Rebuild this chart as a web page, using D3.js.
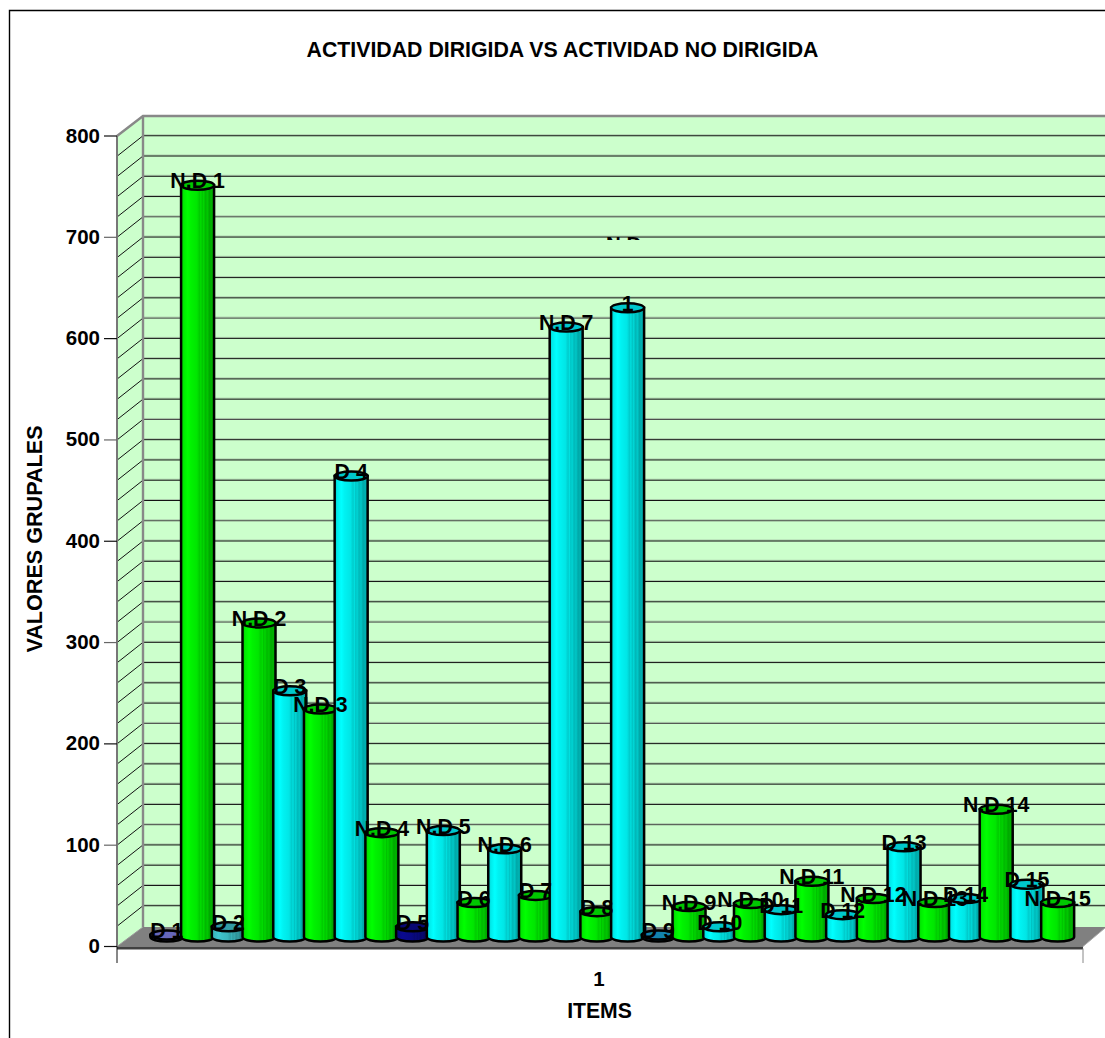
<!DOCTYPE html>
<html>
<head>
<meta charset="utf-8">
<script src="https://cdn.jsdelivr.net/npm/d3@7/dist/d3.min.js"></script>
<style>
html,body{margin:0;padding:0;background:#fff;overflow:hidden}
svg{display:block}
text{font-family:"Liberation Sans",Arial,sans-serif;font-weight:bold;fill:#000}
</style>
</head>
<body>
<svg id="chart" width="1105" height="1038"></svg>
<script>
// Grouped activity values, one cylinder per item, in drawing order.
const labels = ["D 1","N.D 1","D 2","N.D 2","D 3","N.D 3","D 4","N.D 4","D 5","N.D 5",
  "D 6","N.D 6","D 7","N.D 7","D 8","1","D 9","N.D 9","D 10","N.D 10","D 11","N.D 11",
  "D 12","N.D 12","D 13","N.D 13","D 14","N.D 14","D 15","N.D 15"];
const values = [2,742,10,310,243,225,455,103,10,105,34,87,41,602,25,621,2,30,10,33,27,55,22,38,89,34,38,126,52,34];
const fills = ["#8484e8","#00ff00","#40c8d0","#00ff00","#00ffff","#00ff00","#00ffff","#00ff00","#0a0a90","#00ffff",
  "#00ff00","#00ffff","#00ff00","#00ffff","#00ff00","#00ffff","#18a8d8","#00ff00","#00ffff","#00ff00","#00ffff","#00ff00",
  "#00ffff","#00ff00","#00ffff","#00ff00","#00ffff","#00ff00","#00ffff","#00ff00"];
const yTicks = [0,100,200,300,400,500,600,700,800];
const gridValues = d3.range(0,801,20);

const W = 1105, H = 1038;
const left = 117, right = 1083, depthX = 26, depthY = 21;
const svg = d3.select("#chart");

const y = d3.scaleLinear().domain([0,800]).range([946.5,136]);
const x = d3.scaleBand().domain(labels.map((d,i)=>i)).range([151.5,1073]).padding(0);
const capRx = 16.5, capRy = 4.5, barShift = 9.5;

// Outer frame of the chart area
svg.append("path").attr("d",`M9.5,${H}V10.5H${W}`).attr("fill","none").attr("stroke","#000").attr("stroke-width",1.4);

// Back wall, side wall and floor
const backY0 = y(0)-depthY+1.5;
const backTop = y(800)-depthY+1;
svg.append("rect").attr("x",left+depthX).attr("y",backTop).attr("width",W-left-depthX).attr("height",backY0-backTop).attr("fill","#ccffcc");
svg.append("path").attr("d",`M${left},${y(800)}L${left+depthX},${backTop}V${backY0}L${left},${y(0)}Z`).attr("fill","#ccffcc");
svg.append("path").attr("d",`M${left},${y(0)}L${left+depthX},${backY0}H${W}V${backY0+1}L${right},${y(0)}Z`).attr("fill","#808080");

// Gridlines on both walls; every hundred sits under a grey shadow
gridValues.forEach(v=>{
  const yy = y(v)-depthY+0.5;
  if(v>0 && v<800){
    svg.append("line").attr("x1",left+depthX).attr("x2",W).attr("y1",yy-1).attr("y2",yy-1).attr("stroke","#808080").attr("stroke-opacity",0.4);
    svg.append("line").attr("x1",left+depthX).attr("x2",W).attr("y1",yy).attr("y2",yy).attr("stroke",v%100===0?"#444":"#111");
    svg.append("line").attr("x1",left).attr("y1",y(v)).attr("x2",left+depthX).attr("y2",yy).attr("stroke","#111");
  }
});

// Wall edges
svg.append("path").attr("d",`M${left},${y(800)}L${left+depthX},${backTop}H${W}`).attr("fill","none").attr("stroke","#888").attr("stroke-width",2.4);
svg.append("path").attr("d",`M${left+depthX},${backTop}V${backY0}`).attr("fill","none").attr("stroke","#888").attr("stroke-width",2.4);
svg.append("path").attr("d",`M${left},${y(800)}V${y(0)}`).attr("fill","none").attr("stroke","#777").attr("stroke-width",2);
svg.append("path").attr("d",`M${left},${y(0)}L${left+depthX},${backY0}`).attr("fill","none").attr("stroke","#999");
svg.append("path").attr("d",`M${right},${y(0)}L${W},${backY0+1}`).attr("fill","none").attr("stroke","#aaa");
svg.append("rect").attr("x",left).attr("y",y(0)).attr("width",right-left).attr("height",3).attr("fill","#404040");

// Value axis ticks and labels
yTicks.forEach(v=>{
  svg.append("line").attr("x1",left-13).attr("x2",left).attr("y1",y(v)).attr("y2",y(v)).attr("stroke",v%200===0?"#111":"#666").attr("stroke-width",1.2);
  svg.append("text").attr("x",100).attr("y",y(v)+6.5).attr("text-anchor","end").attr("font-size",20.5).text(v);
});
svg.append("line").attr("x1",left).attr("x2",left).attr("y1",y(0)).attr("y2",963).attr("stroke","#111");
svg.append("line").attr("x1",right).attr("x2",right).attr("y1",y(0)+2).attr("y2",963).attr("stroke","#888");

// Banded shading around each cylinder, one gradient per colour
const defs = svg.append("defs");
const gradId = c => "shade"+c.slice(1);
const shadeBands = [[0,0.78],[0.08,0.92],[0.2,1.0],[0.3,0.95],[0.48,0.9],[0.56,0.8],[0.6,0.88],[0.64,0.76],[0.68,0.84],[0.74,0.72],[0.8,0.78],[0.86,0.66],[0.93,0.7],[1,0.6]];
Array.from(new Set(fills)).forEach(c=>{
  const g = defs.append("linearGradient").attr("id",gradId(c));
  const base = d3.rgb(c);
  shadeBands.forEach(([o,k])=>{
    g.append("stop").attr("offset",o).attr("stop-color",d3.rgb(base.r*k,base.g*k,base.b*k).formatHex());
  });
});

// Cylinders, left to right so each overlaps the previous one
const bars = svg.append("g");
values.forEach((v,i)=>{
  const cx = x(i)+x.bandwidth()/2;
  const top = y(v)-barShift, base = y(0)-barShift;
  const c = d3.rgb(fills[i]);
  bars.append("path")
    .attr("d",`M${cx-capRx},${top}V${base}A${capRx},${capRy} 0 0 0 ${cx+capRx},${base}V${top}Z`)
    .attr("fill",`url(#${gradId(fills[i])})`).attr("stroke","#000").attr("stroke-width",2.5);
  bars.append("ellipse").attr("cx",cx).attr("cy",top).attr("rx",capRx).attr("ry",capRy)
    .attr("fill",d3.rgb(c.r*0.78,c.g*0.78,c.b*0.8).formatHex()).attr("stroke","#000").attr("stroke-width",2.5);
});

// Item labels, drawn above all cylinders
const labelLayer = svg.append("g");
labels.forEach((t,i)=>{
  labelLayer.append("text").attr("x",x(i)+x.bandwidth()/2).attr("y",y(values[i])-barShift+3)
    .attr("text-anchor","middle").attr("font-size",21.3).text(t);
});

// Remainder of the N.D label above the sixteenth cylinder, cut off along its lower edge
defs.append("clipPath").attr("id","cutLabel").append("rect").attr("x",590).attr("y",225).attr("width",80).attr("height",15);
svg.append("text").attr("x",606).attr("y",251).attr("font-size",20.5).attr("clip-path","url(#cutLabel)").text("N.D");

// Titles
svg.append("text").attr("x",562.5).attr("y",56.7).attr("text-anchor","middle").attr("font-size",21.3).text("ACTIVIDAD DIRIGIDA VS ACTIVIDAD NO DIRIGIDA");
svg.append("text").attr("transform","translate(41.7,539) rotate(-90)").attr("text-anchor","middle").attr("font-size",21.6).text("VALORES GRUPALES");
svg.append("text").attr("x",599.5).attr("y",1018).attr("text-anchor","middle").attr("font-size",21.2).text("ITEMS");
svg.append("text").attr("x",599).attr("y",986).attr("text-anchor","middle").attr("font-size",20.5).text("1");
</script>
</body>
</html>
